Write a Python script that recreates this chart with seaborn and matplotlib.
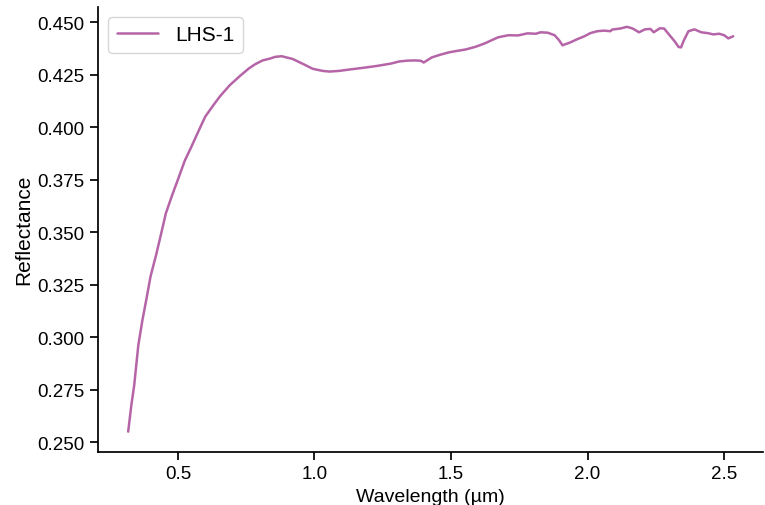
import pandas as pd
import matplotlib
matplotlib.use("Agg")
import matplotlib.pyplot as plt
import seaborn as sns

# Spectrum
wavelength = [0.318, 0.330, 0.340, 0.355, 0.370, 0.384, 0.400, 0.420, 0.440, 0.456,
              0.480, 0.500, 0.525, 0.547, 0.575, 0.600, 0.630, 0.656, 0.690, 0.729,
              0.760, 0.783, 0.810, 0.838, 0.856, 0.880, 0.920, 0.960, 0.994, 1.030,
              1.055, 1.090, 1.130, 1.180, 1.230, 1.280, 1.310, 1.340, 1.371, 1.390,
              1.400, 1.429, 1.460, 1.491, 1.520, 1.553, 1.590, 1.625, 1.650, 1.672,
              1.710, 1.745, 1.780, 1.810, 1.828, 1.854, 1.879, 1.895, 1.908, 1.937,
              1.960, 1.988, 2.010, 2.035, 2.060, 2.083, 2.090, 2.120, 2.144, 2.165,
              2.188, 2.210, 2.230, 2.242, 2.264, 2.280, 2.300, 2.318, 2.333, 2.342,
              2.351, 2.369, 2.391, 2.416, 2.440, 2.460, 2.482, 2.500, 2.515, 2.533]
reflectance = [0.2550, 0.2680, 0.2770, 0.2960, 0.3080, 0.3176, 0.3290, 0.3390, 0.3500, 0.3590,
               0.3680, 0.3750, 0.3840, 0.3900, 0.3980, 0.4050, 0.4105, 0.4150, 0.4200, 0.4246,
               0.4280, 0.4300, 0.4318, 0.4327, 0.4335, 0.4338, 0.4325, 0.4300, 0.4278, 0.4268,
               0.4265, 0.4268, 0.4275, 0.4283, 0.4292, 0.4303, 0.4313, 0.4317, 0.4318, 0.4316,
               0.4308, 0.4332, 0.4345, 0.4356, 0.4363, 0.4370, 0.4383, 0.4400, 0.4415, 0.4428,
               0.4438, 0.4437, 0.4447, 0.4445, 0.4452, 0.4450, 0.4438, 0.4415, 0.4390, 0.4404,
               0.4418, 0.4433, 0.4448, 0.4457, 0.4460, 0.4457, 0.4465, 0.4470, 0.4478, 0.4470,
               0.4452, 0.4466, 0.4468, 0.4452, 0.4471, 0.4470, 0.4438, 0.4410, 0.4382, 0.4380,
               0.4410, 0.4457, 0.4466, 0.4452, 0.4448, 0.4442, 0.4445, 0.4438, 0.4423, 0.4433]
series_name = "LHS-1"

df = pd.DataFrame({"Wavelength": wavelength, "Reflectance": reflectance})

sns.set_theme(style="ticks")
plt.rcParams["font.family"] = ["Liberation Sans", "DejaVu Sans"]
plt.rcParams["text.color"] = "black"
plt.rcParams["axes.labelcolor"] = "black"
plt.rcParams["xtick.color"] = "black"
plt.rcParams["ytick.color"] = "black"
plt.rcParams["axes.edgecolor"] = "black"

fig, ax = plt.subplots(figsize=(7.65, 5.06), dpi=100)
sns.lineplot(data=df, x="Wavelength", y="Reflectance", color="#b565a7",
             linewidth=1.8, label=series_name, ax=ax)

ax.set_xlabel("Wavelength (µm)", fontsize=14)
ax.set_ylabel("Reflectance", fontsize=15, labelpad=3)
ax.tick_params(labelsize=13.5)
ax.set_xticks([0.5, 1.0, 1.5, 2.0, 2.5])
ax.yaxis.set_major_formatter(matplotlib.ticker.FormatStrFormatter("%.3f"))
ax.legend(loc="upper left", fontsize=15, handlelength=2.0)
sns.despine(ax=ax)

fig.subplots_adjust(left=0.128, right=0.998, bottom=0.105, top=0.985)
fig.savefig("out.png", dpi=100)
